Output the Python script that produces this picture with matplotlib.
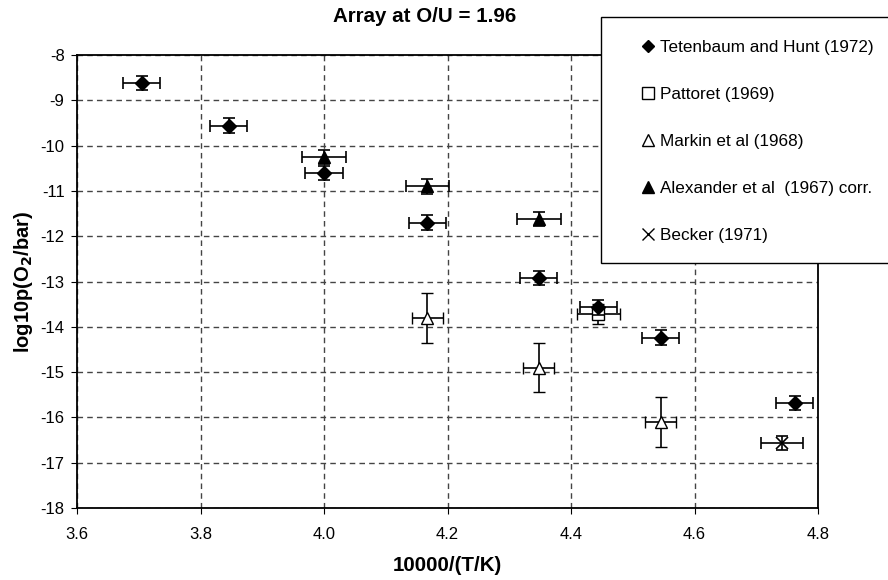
import matplotlib
matplotlib.use("Agg")
import matplotlib.pyplot as plt
from matplotlib.lines import Line2D
from matplotlib.patches import Rectangle

plt.rcParams["font.family"] = ["Liberation Sans", "DejaVu Sans"]
plt.rcParams["axes.unicode_minus"] = False

# -------------------------- Data --------------------------
tet_x = [3.705, 3.846, 4.000, 4.167, 4.348, 4.444, 4.545, 4.762]
tet_y = [-8.62, -9.56, -10.60, -11.70, -12.92, -13.57, -14.24, -15.68]
tet_xerr = 0.03
tet_yerr = 0.16

pat_x = [4.444]
pat_y = [-13.72]
pat_xerr = 0.035
pat_yerr = 0.22

mar_x = [4.167, 4.348, 4.545]
mar_y = [-13.80, -14.90, -16.10]
mar_xerr = 0.025
mar_yerr = 0.55

alx_x = [4.000, 4.167, 4.348]
alx_y = [-10.25, -10.90, -11.62]
alx_xerr = 0.035
alx_yerr = 0.16

bec_x = [4.742]
bec_y = [-16.56]
bec_xerr = 0.034
bec_yerr = 0.15

labels = ["Tetenbaum and Hunt (1972)", "Pattoret (1969)", "Markin et al (1968)",
          "Alexander et al  (1967) corr.", "Becker (1971)"]

# -------------------------- Plot --------------------------
fig = plt.figure(figsize=(8.88, 5.8), dpi=100)
ax = fig.add_axes([77 / 888, 72 / 580, 741 / 888, 453 / 580])

eb = dict(ecolor="black", elinewidth=1.2, capsize=4, capthick=1.2, linestyle="none")

ax.errorbar(mar_x, mar_y, xerr=mar_xerr, yerr=mar_yerr, marker="^", ms=9,
            mfc="white", mec="black", mew=1.0, zorder=3, **eb)
ax.errorbar(pat_x, pat_y, xerr=pat_xerr, yerr=pat_yerr, marker="s", ms=9,
            mfc="white", mec="black", mew=1.0, zorder=3, **eb)
ax.errorbar(alx_x, alx_y, xerr=alx_xerr, yerr=alx_yerr, marker="^", ms=9,
            mfc="black", mec="black", zorder=4, **eb)
ax.errorbar(tet_x, tet_y, xerr=tet_xerr, yerr=tet_yerr, marker="D", ms=7,
            mfc="black", mec="black", zorder=5, **eb)
ax.errorbar(bec_x, bec_y, xerr=bec_xerr, yerr=bec_yerr, marker="x", ms=9,
            mfc="black", mec="black", mew=1.2, zorder=4, **eb)

ax.set_xlim(3.6, 4.8)
ax.set_ylim(-18, -8)
ax.set_xticks([3.6, 3.8, 4.0, 4.2, 4.4, 4.6, 4.8])
ax.set_xticklabels(["3.6", "3.8", "4.0", "4.2", "4.4", "4.6", "4.8"])
ax.set_yticks(range(-18, -7))
ax.tick_params(labelsize=12, direction="out", length=4, color="black")
ax.tick_params(axis="x", pad=10)
ax.tick_params(axis="y", pad=5)
ax.grid(True, linestyle=(0, (4, 3)), color="#444444", linewidth=1.0)
ax.set_axisbelow(True)
for s in ax.spines.values():
    s.set_linewidth(1.3)
    s.set_color("black")

ax.set_xlabel("10000/(T/K)", fontsize=14.8, fontweight="bold", labelpad=10)
ax.set_ylabel(r"log10p(O$_\mathbf{2}$/bar)", fontsize=14.5, fontweight="bold", labelpad=4)
fig.text(425 / 888, 1 - 16 / 580, "Array at O/U = 1.96", fontsize=14.8,
         fontweight="bold", ha="center", va="center")

# legend with its own frame
fig.patches.append(Rectangle((601 / 888, 1 - 263 / 580), 300 / 888, 246 / 580,
                             transform=fig.transFigure, facecolor="white",
                             edgecolor="black", linewidth=1.0, zorder=10))
handles = [
    Line2D([], [], marker="D", ms=6.5, color="black", linestyle="none"),
    Line2D([], [], marker="s", ms=8, mfc="white", mec="black", linestyle="none"),
    Line2D([], [], marker="^", ms=8, mfc="white", mec="black", linestyle="none"),
    Line2D([], [], marker="^", ms=8, mfc="black", mec="black", linestyle="none"),
    Line2D([], [], marker="x", ms=8, color="black", mew=1.0, linestyle="none"),
]
leg = fig.legend(handles, labels, loc="upper left", bbox_to_anchor=(629 / 888, 1 - 28 / 580),
                 frameon=False, fontsize=12.3, handlelength=0.8, handletextpad=0.3,
                 labelspacing=1.88, borderpad=0.2)
leg.set_zorder(11)

fig.savefig("out.png", dpi=100)
